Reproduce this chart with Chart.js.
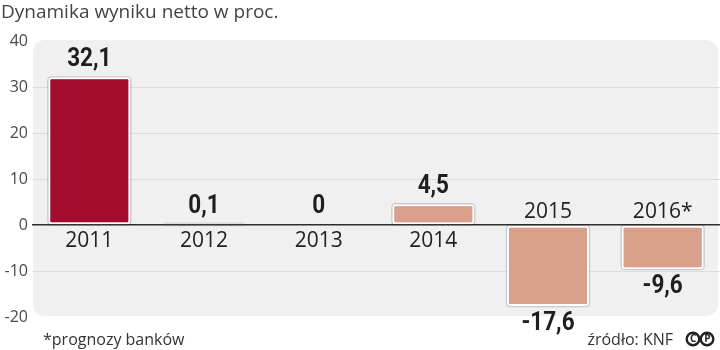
<!DOCTYPE html>
<html>
<head>
<meta charset="utf-8">
<script src="https://cdn.jsdelivr.net/npm/chart.js@4/dist/chart.umd.min.js"></script>
<style>
  html, body { margin: 0; padding: 0; background: #ffffff; }
  #wrap { position: relative; width: 720px; height: 350px; }
</style>
</head>
<body>
<div id="wrap"><canvas id="c" width="720" height="350"></canvas></div>
<script>
// Dynamika wyniku netto sektora bankowego (proc.)
const years = ['2011', '2012', '2013', '2014', '2015', '2016*'];
const values = [32.1, 0.1, 0, 4.5, -17.6, -9.6];
const barColors = ['#a30d2b', '#d9a08b', '#d9a08b', '#d9a08b', '#d9a08b', '#d9a08b'];
const yTicks = [-20, -10, 0, 10, 20, 30, 40];

const titleText = 'Dynamika wyniku netto w proc.';
const noteText = '*prognozy banków';
const sourceText = 'źródło: KNF';

const SANS = "'Open Sans', 'DejaVu Sans', sans-serif";
const BOLD = "Roboto, 'Liberation Sans', sans-serif";

function fmt(v) {
  return String(v).replace('.', ',');
}

function roundRect(ctx, x, y, w, h, r) {
  ctx.beginPath();
  ctx.moveTo(x + r, y);
  ctx.lineTo(x + w - r, y);
  ctx.quadraticCurveTo(x + w, y, x + w, y + r);
  ctx.lineTo(x + w, y + h - r);
  ctx.quadraticCurveTo(x + w, y + h, x + w - r, y + h);
  ctx.lineTo(x + r, y + h);
  ctx.quadraticCurveTo(x, y + h, x, y + h - r);
  ctx.lineTo(x, y + r);
  ctx.quadraticCurveTo(x, y, x + r, y);
  ctx.closePath();
}

// condensed bold number, centred on (x, y)
function narrowText(ctx, text, x, y) {
  ctx.save();
  ctx.translate(x, y);
  ctx.scale(0.9, 1);
  ctx.fillText(text, 0, 0);
  ctx.restore();
}

// light rounded panel behind the plot, title and footer texts
const framePlugin = {
  id: 'frame',
  beforeDraw(chart) {
    const ctx = chart.ctx;
    const a = chart.chartArea;
    ctx.save();
    roundRect(ctx, a.left + 1, a.top - 1, 718 - a.left - 1, a.bottom - a.top, 13);
    ctx.fillStyle = '#f0f0f0';
    ctx.fill();
    ctx.restore();
  },
  afterDraw(chart) {
    const ctx = chart.ctx;
    ctx.save();
    ctx.textBaseline = 'middle';
    ctx.fillStyle = '#444';
    ctx.font = '19px ' + SANS;
    ctx.textAlign = 'left';
    ctx.fillText(titleText, 1, 13);

    ctx.font = '16px ' + SANS;
    ctx.fillStyle = '#333';
    ctx.fillText(noteText, 43, 340);
    ctx.textAlign = 'right';
    ctx.fillText(sourceText, 673, 340);

    // (C)(P) mark
    ctx.lineWidth = 2.4;
    ctx.strokeStyle = '#222';
    ctx.fillStyle = '#222';
    ctx.textAlign = 'center';
    ctx.font = 'bold 10px ' + SANS;
    [[693, 'C'], [707, 'P']].forEach(([cx, ch]) => {
      ctx.beginPath();
      ctx.arc(cx, 339, 6.3, 0, Math.PI * 2);
      ctx.stroke();
      ctx.fillText(ch, cx + 0.3, 339.5);
    });
    ctx.restore();
  }
};

// soft grey halo around each bar, drawn under the white bar border
const haloPlugin = {
  id: 'halo',
  beforeDatasetsDraw(chart) {
    const ctx = chart.ctx;
    const meta = chart.getDatasetMeta(0);
    ctx.save();
    meta.data.forEach((bar, i) => {
      if (values[i] === 0) return;
      const p = bar.getProps(['x', 'y', 'base', 'width'], true);
      const top = Math.min(p.y, p.base);
      const bot = Math.max(p.y, p.base);
      if (bot - top < 1) {
        ctx.fillStyle = 'rgba(0,0,0,0.08)';
        roundRect(ctx, p.x - p.width / 2, top - 2, p.width, 4, 2);
        ctx.fill();
        return;
      }
      roundRect(ctx, p.x - p.width / 2 - 1.2, top - 1.2, p.width + 2.4, bot - top + 2.4, 5);
      ctx.fillStyle = 'rgba(0,0,0,0.16)';
      ctx.fill();
    });
    ctx.restore();
  }
};

// value labels and category labels on the opposite side of the zero line
const labelPlugin = {
  id: 'labels',
  afterDatasetsDraw(chart) {
    const ctx = chart.ctx;
    const meta = chart.getDatasetMeta(0);
    const zero = chart.scales.y.getPixelForValue(0);
    ctx.save();
    ctx.textAlign = 'center';
    ctx.textBaseline = 'middle';
    meta.data.forEach((bar, i) => {
      const v = values[i];
      const p = bar.getProps(['x', 'y', 'base'], true);
      ctx.fillStyle = '#1e1e1e';
      ctx.font = 'bold 25px ' + BOLD;
      if (v >= 0) {
        narrowText(ctx, fmt(v), p.x, Math.min(p.y, zero) - 18);
      } else {
        narrowText(ctx, fmt(v), p.x, p.y + 18);
      }
      ctx.fillStyle = '#222';
      ctx.font = '21px ' + SANS;
      if (v >= 0) {
        ctx.fillText(years[i], p.x, zero + 16);
      } else {
        ctx.fillText(years[i], p.x, zero - 13);
      }
    });
    ctx.restore();
  }
};

new Chart(document.getElementById('c'), {
  type: 'bar',
  data: {
    labels: years,
    datasets: [{
      data: values,
      backgroundColor: barColors,
      borderColor: '#ffffff',
      borderWidth: 2,
      borderRadius: 3,
      borderSkipped: false,
      barPercentage: 0.715,
      categoryPercentage: 1
    }]
  },
  options: {
    responsive: false,
    animation: false,
    events: [],
    layout: { padding: { top: 41, bottom: 33, left: 0, right: 0 } },
    plugins: {
      legend: { display: false },
      tooltip: { enabled: false },
      title: { display: false }
    },
    scales: {
      x: {
        display: false
      },
      y: {
        min: -20,
        max: 40,
        afterBuildTicks(scale) {
          scale.ticks = yTicks.map((v) => ({ value: v }));
        },
        afterFit(scale) { scale.width = 32; },
        border: { display: false },
        grid: {
          drawTicks: false,
          color(ctx) {
            const v = ctx.tick && ctx.tick.value;
            if (v === 0) return '#2e2e2e';
            if (v === 40 || v === -20) return 'rgba(0,0,0,0)';
            return '#dcdcdc';
          },
          lineWidth(ctx) {
            return ctx.tick && ctx.tick.value === 0 ? 1.6 : 1;
          }
        },
        ticks: {
          padding: 4,
          color: '#4a4a4a',
          font: { family: SANS, size: 16 }
        }
      }
    }
  },
  plugins: [framePlugin, haloPlugin, labelPlugin]
});
</script>
</body>
</html>
